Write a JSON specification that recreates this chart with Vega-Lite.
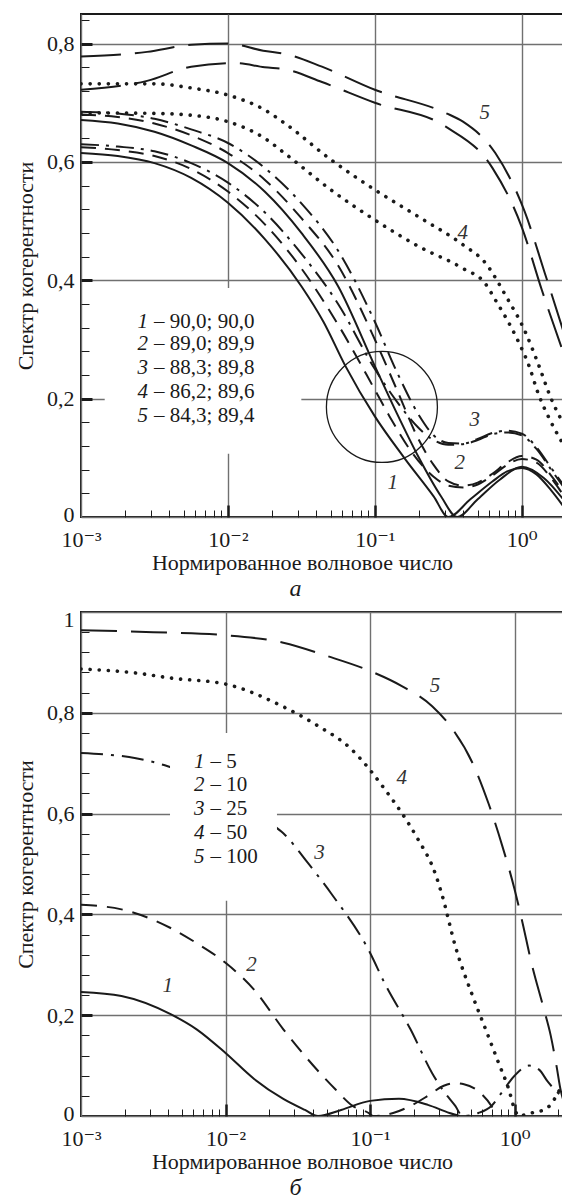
{
  "$schema": "https://vega.github.io/schema/vega-lite/v6.json",
  "padding": {"left": 13, "top": 13, "right": 0, "bottom": 0},
  "background": "white",
  "config": {
    "view": {"stroke": "#1a1a1a", "strokeWidth": 2},
    "font": "Liberation Serif, 'DejaVu Serif', serif",
    "axis": {"labelFont": "Liberation Serif, 'DejaVu Serif', serif", "titleFont": "Liberation Serif, 'DejaVu Serif', serif", "labelColor": "#1a1a1a", "titleColor": "#1a1a1a", "labelFontSize": 22, "titleFontSize": 22, "titleFontWeight": "normal", "gridColor": "#707070", "gridWidth": 1.4, "tickColor": "#1a1a1a"},
    "concat": {"spacing": 5}
  },
  "datasets": {
    "topCurves": [
      {"c":"1a","s":"solid","x":0.001,"y":0.671},{"c":"1a","s":"solid","x":0.0017783,"y":0.665},{"c":"1a","s":"solid","x":0.0031623,"y":0.651},{"c":"1a","s":"solid","x":0.0056234,"y":0.628},{"c":"1a","s":"solid","x":0.01,"y":0.598},{"c":"1a","s":"solid","x":0.017783,"y":0.55},{"c":"1a","s":"solid","x":0.031623,"y":0.48},{"c":"1a","s":"solid","x":0.056234,"y":0.39},{"c":"1a","s":"solid","x":0.1,"y":0.255},{"c":"1a","s":"solid","x":0.14125,"y":0.175},{"c":"1a","s":"solid","x":0.19953,"y":0.10},{"c":"1a","s":"solid","x":0.28184,"y":0.035},{"c":"1a","s":"solid","x":0.36308,"y":0.0},{"c":"1a","s":"solid","x":0.50119,"y":0.03},{"c":"1a","s":"solid","x":0.70795,"y":0.063},{"c":"1a","s":"solid","x":1.0,"y":0.085},{"c":"1a","s":"solid","x":1.4125,"y":0.066},{"c":"1a","s":"solid","x":2.0,"y":0.024},
      {"c":"1b","s":"solid","x":0.001,"y":0.615},{"c":"1b","s":"solid","x":0.0017783,"y":0.61},{"c":"1b","s":"solid","x":0.0031623,"y":0.598},{"c":"1b","s":"solid","x":0.0056234,"y":0.573},{"c":"1b","s":"solid","x":0.01,"y":0.531},{"c":"1b","s":"solid","x":0.017783,"y":0.47},{"c":"1b","s":"solid","x":0.031623,"y":0.39},{"c":"1b","s":"solid","x":0.044668,"y":0.33},{"c":"1b","s":"solid","x":0.063096,"y":0.255},{"c":"1b","s":"solid","x":0.1,"y":0.17},{"c":"1b","s":"solid","x":0.15849,"y":0.10},{"c":"1b","s":"solid","x":0.25119,"y":0.035},{"c":"1b","s":"solid","x":0.31623,"y":0.0},{"c":"1b","s":"solid","x":0.44668,"y":0.03},{"c":"1b","s":"solid","x":0.63096,"y":0.06},{"c":"1b","s":"solid","x":0.79433,"y":0.077},{"c":"1b","s":"solid","x":1.0,"y":0.083},{"c":"1b","s":"solid","x":1.2589,"y":0.072},{"c":"1b","s":"solid","x":1.5849,"y":0.045},{"c":"1b","s":"solid","x":2.0,"y":0.012},
      {"c":"2a","s":"dash","x":0.001,"y":0.625},{"c":"2a","s":"dash","x":0.0017783,"y":0.62},{"c":"2a","s":"dash","x":0.0031623,"y":0.61},{"c":"2a","s":"dash","x":0.0056234,"y":0.588},{"c":"2a","s":"dash","x":0.01,"y":0.55},{"c":"2a","s":"dash","x":0.017783,"y":0.495},{"c":"2a","s":"dash","x":0.031623,"y":0.42},{"c":"2a","s":"dash","x":0.056234,"y":0.325},{"c":"2a","s":"dash","x":0.1,"y":0.215},{"c":"2a","s":"dash","x":0.12589,"y":0.17},{"c":"2a","s":"dash","x":0.17783,"y":0.11},{"c":"2a","s":"dash","x":0.25119,"y":0.068},{"c":"2a","s":"dash","x":0.31623,"y":0.053},{"c":"2a","s":"dash","x":0.39811,"y":0.05},{"c":"2a","s":"dash","x":0.50119,"y":0.055},{"c":"2a","s":"dash","x":0.63096,"y":0.07},{"c":"2a","s":"dash","x":0.79433,"y":0.088},{"c":"2a","s":"dash","x":1.0,"y":0.098},{"c":"2a","s":"dash","x":1.2589,"y":0.092},{"c":"2a","s":"dash","x":1.5849,"y":0.066},{"c":"2a","s":"dash","x":2.0,"y":0.03},
      {"c":"2b","s":"dash","x":0.001,"y":0.68},{"c":"2b","s":"dash","x":0.0017783,"y":0.676},{"c":"2b","s":"dash","x":0.0031623,"y":0.665},{"c":"2b","s":"dash","x":0.0056234,"y":0.645},{"c":"2b","s":"dash","x":0.01,"y":0.615},{"c":"2b","s":"dash","x":0.017783,"y":0.57},{"c":"2b","s":"dash","x":0.031623,"y":0.505},{"c":"2b","s":"dash","x":0.056234,"y":0.425},{"c":"2b","s":"dash","x":0.1,"y":0.30},{"c":"2b","s":"dash","x":0.14125,"y":0.215},{"c":"2b","s":"dash","x":0.19953,"y":0.13},{"c":"2b","s":"dash","x":0.25119,"y":0.088},{"c":"2b","s":"dash","x":0.31623,"y":0.06},{"c":"2b","s":"dash","x":0.39811,"y":0.053},{"c":"2b","s":"dash","x":0.50119,"y":0.058},{"c":"2b","s":"dash","x":0.63096,"y":0.073},{"c":"2b","s":"dash","x":0.79433,"y":0.092},{"c":"2b","s":"dash","x":1.0,"y":0.103},{"c":"2b","s":"dash","x":1.2589,"y":0.097},{"c":"2b","s":"dash","x":1.5849,"y":0.07},{"c":"2b","s":"dash","x":2.0,"y":0.035},
      {"c":"3a","s":"dashdot","x":0.001,"y":0.63},{"c":"3a","s":"dashdot","x":0.0017783,"y":0.626},{"c":"3a","s":"dashdot","x":0.0031623,"y":0.618},{"c":"3a","s":"dashdot","x":0.0056234,"y":0.598},{"c":"3a","s":"dashdot","x":0.01,"y":0.565},{"c":"3a","s":"dashdot","x":0.017783,"y":0.515},{"c":"3a","s":"dashdot","x":0.031623,"y":0.445},{"c":"3a","s":"dashdot","x":0.056234,"y":0.36},{"c":"3a","s":"dashdot","x":0.1,"y":0.25},{"c":"3a","s":"dashdot","x":0.14125,"y":0.195},{"c":"3a","s":"dashdot","x":0.19953,"y":0.15},{"c":"3a","s":"dashdot","x":0.25119,"y":0.13},{"c":"3a","s":"dashdot","x":0.31623,"y":0.122},{"c":"3a","s":"dashdot","x":0.39811,"y":0.123},{"c":"3a","s":"dashdot","x":0.50119,"y":0.13},{"c":"3a","s":"dashdot","x":0.63096,"y":0.14},{"c":"3a","s":"dashdot","x":0.79433,"y":0.143},{"c":"3a","s":"dashdot","x":1.0,"y":0.138},{"c":"3a","s":"dashdot","x":1.2589,"y":0.115},{"c":"3a","s":"dashdot","x":1.5849,"y":0.08},{"c":"3a","s":"dashdot","x":2.0,"y":0.045},
      {"c":"3b","s":"dashdot","x":0.001,"y":0.685},{"c":"3b","s":"dashdot","x":0.0017783,"y":0.682},{"c":"3b","s":"dashdot","x":0.0031623,"y":0.673},{"c":"3b","s":"dashdot","x":0.0056234,"y":0.655},{"c":"3b","s":"dashdot","x":0.01,"y":0.632},{"c":"3b","s":"dashdot","x":0.017783,"y":0.59},{"c":"3b","s":"dashdot","x":0.031623,"y":0.53},{"c":"3b","s":"dashdot","x":0.056234,"y":0.45},{"c":"3b","s":"dashdot","x":0.1,"y":0.33},{"c":"3b","s":"dashdot","x":0.14125,"y":0.245},{"c":"3b","s":"dashdot","x":0.19953,"y":0.172},{"c":"3b","s":"dashdot","x":0.25119,"y":0.138},{"c":"3b","s":"dashdot","x":0.31623,"y":0.125},{"c":"3b","s":"dashdot","x":0.39811,"y":0.124},{"c":"3b","s":"dashdot","x":0.50119,"y":0.132},{"c":"3b","s":"dashdot","x":0.63096,"y":0.142},{"c":"3b","s":"dashdot","x":0.79433,"y":0.146},{"c":"3b","s":"dashdot","x":1.0,"y":0.141},{"c":"3b","s":"dashdot","x":1.2589,"y":0.118},{"c":"3b","s":"dashdot","x":1.5849,"y":0.083},{"c":"3b","s":"dashdot","x":2.0,"y":0.048},
      {"c":"4a","s":"dot","x":0.001,"y":0.732},{"c":"4a","s":"dot","x":0.0031623,"y":0.732},{"c":"4a","s":"dot","x":0.0056234,"y":0.725},{"c":"4a","s":"dot","x":0.01,"y":0.713},{"c":"4a","s":"dot","x":0.017783,"y":0.688},{"c":"4a","s":"dot","x":0.025119,"y":0.663},{"c":"4a","s":"dot","x":0.050119,"y":0.604},{"c":"4a","s":"dot","x":0.1,"y":0.553},{"c":"4a","s":"dot","x":0.19953,"y":0.507},{"c":"4a","s":"dot","x":0.39811,"y":0.46},{"c":"4a","s":"dot","x":0.56234,"y":0.43},{"c":"4a","s":"dot","x":0.79433,"y":0.37},{"c":"4a","s":"dot","x":1.0471,"y":0.315},{"c":"4a","s":"dot","x":1.2882,"y":0.26},{"c":"4a","s":"dot","x":1.5849,"y":0.2},{"c":"4a","s":"dot","x":2.0,"y":0.15},
      {"c":"4b","s":"dot","x":0.001,"y":0.683},{"c":"4b","s":"dot","x":0.0031623,"y":0.682},{"c":"4b","s":"dot","x":0.0056234,"y":0.679},{"c":"4b","s":"dot","x":0.01,"y":0.668},{"c":"4b","s":"dot","x":0.017783,"y":0.64},{"c":"4b","s":"dot","x":0.025119,"y":0.612},{"c":"4b","s":"dot","x":0.050119,"y":0.553},{"c":"4b","s":"dot","x":0.1,"y":0.502},{"c":"4b","s":"dot","x":0.19953,"y":0.457},{"c":"4b","s":"dot","x":0.39811,"y":0.42},{"c":"4b","s":"dot","x":0.56234,"y":0.395},{"c":"4b","s":"dot","x":0.66069,"y":0.367},{"c":"4b","s":"dot","x":0.93325,"y":0.30},{"c":"4b","s":"dot","x":1.122,"y":0.255},{"c":"4b","s":"dot","x":1.2882,"y":0.21},{"c":"4b","s":"dot","x":1.5849,"y":0.16},{"c":"4b","s":"dot","x":2.0,"y":0.115},
      {"c":"5a","s":"long","x":0.001,"y":0.778},{"c":"5a","s":"long","x":0.0028184,"y":0.786},{"c":"5a","s":"long","x":0.0056234,"y":0.798},{"c":"5a","s":"long","x":0.01,"y":0.80},{"c":"5a","s":"long","x":0.017378,"y":0.788},{"c":"5a","s":"long","x":0.025119,"y":0.782},{"c":"5a","s":"long","x":0.043652,"y":0.761},{"c":"5a","s":"long","x":0.1,"y":0.722},{"c":"5a","s":"long","x":0.302,"y":0.683},{"c":"5a","s":"long","x":0.39811,"y":0.668},{"c":"5a","s":"long","x":0.66069,"y":0.615},{"c":"5a","s":"long","x":1.0471,"y":0.516},{"c":"5a","s":"long","x":1.4355,"y":0.412},{"c":"5a","s":"long","x":2.0,"y":0.30},
      {"c":"5b","s":"long","x":0.001,"y":0.722},{"c":"5b","s":"long","x":0.0028184,"y":0.737},{"c":"5b","s":"long","x":0.0056234,"y":0.761},{"c":"5b","s":"long","x":0.01122,"y":0.767},{"c":"5b","s":"long","x":0.017783,"y":0.76},{"c":"5b","s":"long","x":0.025119,"y":0.756},{"c":"5b","s":"long","x":0.043652,"y":0.735},{"c":"5b","s":"long","x":0.1,"y":0.70},{"c":"5b","s":"long","x":0.302,"y":0.66},{"c":"5b","s":"long","x":0.63096,"y":0.59},{"c":"5b","s":"long","x":1.0,"y":0.49},{"c":"5b","s":"long","x":1.3677,"y":0.384},{"c":"5b","s":"long","x":2.0,"y":0.265}
    ],
    "topLegend": [
      {"n":"1","t":"– 90,0; 90,0","x":0.003,"y":0.330},
      {"n":"2","t":"– 89,0; 89,9","x":0.003,"y":0.292},
      {"n":"3","t":"– 88,3; 89,8","x":0.003,"y":0.251},
      {"n":"4","t":"– 86,2; 89,6","x":0.003,"y":0.212},
      {"n":"5","t":"– 84,3; 89,4","x":0.003,"y":0.170}
    ],
    "topLabels": [
      {"n":"5","x":0.5598,"y":0.683},
      {"n":"4","x":0.3972,"y":0.48},
      {"n":"3","x":0.4786,"y":0.164},
      {"n":"2","x":0.3784,"y":0.091},
      {"n":"1","x":0.1324,"y":0.057}
    ],
    "topMask": [{"x1":0.00145,"x2":0.0316,"y1":0.107,"y2":0.387}],
    "topCircle": [{"x":0.1117,"y":0.186}],
    "botCurves": [
      {"c":"1","s":"solid","x":0.001,"y":0.246},{"c":"1","s":"solid","x":0.0019055,"y":0.238},{"c":"1","s":"solid","x":0.0041687,"y":0.202},{"c":"1","s":"solid","x":0.0063096,"y":0.172},{"c":"1","s":"solid","x":0.01,"y":0.125},{"c":"1","s":"solid","x":0.015849,"y":0.073},{"c":"1","s":"solid","x":0.025119,"y":0.034},{"c":"1","s":"solid","x":0.035481,"y":0.012},{"c":"1","s":"solid","x":0.043652,"y":0.0},{"c":"1","s":"solid","x":0.063096,"y":0.012},{"c":"1","s":"solid","x":0.1,"y":0.03},{"c":"1","s":"solid","x":0.15849,"y":0.034},{"c":"1","s":"solid","x":0.25119,"y":0.022},{"c":"1","s":"solid","x":0.35481,"y":0.006},{"c":"1","s":"solid","x":0.41687,"y":0.0},
      {"c":"2","s":"dash","x":0.001,"y":0.419},{"c":"2","s":"dash","x":0.0019055,"y":0.41},{"c":"2","s":"dash","x":0.0041687,"y":0.373},{"c":"2","s":"dash","x":0.0063096,"y":0.343},{"c":"2","s":"dash","x":0.01,"y":0.304},{"c":"2","s":"dash","x":0.015849,"y":0.25},{"c":"2","s":"dash","x":0.025119,"y":0.172},{"c":"2","s":"dash","x":0.035481,"y":0.119},{"c":"2","s":"dash","x":0.057544,"y":0.053},{"c":"2","s":"dash","x":0.075858,"y":0.02},{"c":"2","s":"dash","x":0.097724,"y":0.006},{"c":"2","s":"dash","x":0.10471,"y":0.0},{"c":"2","s":"dash","x":0.14454,"y":0.006},{"c":"2","s":"dash","x":0.19055,"y":0.02},{"c":"2","s":"dash","x":0.25119,"y":0.04},{"c":"2","s":"dash","x":0.32359,"y":0.06},{"c":"2","s":"dash","x":0.38019,"y":0.065},{"c":"2","s":"dash","x":0.44668,"y":0.063},{"c":"2","s":"dash","x":0.58884,"y":0.044},{"c":"2","s":"dash","x":0.69183,"y":0.02},{"c":"2","s":"dash","x":0.75858,"y":0.0},
      {"c":"3","s":"dashdot","x":0.001,"y":0.72},{"c":"3","s":"dashdot","x":0.0023988,"y":0.71},{"c":"3","s":"dashdot","x":0.0039811,"y":0.694},{"c":"3","s":"dashdot","x":0.01,"y":0.645},{"c":"3","s":"dashdot","x":0.020417,"y":0.581},{"c":"3","s":"dashdot","x":0.025119,"y":0.561},{"c":"3","s":"dashdot","x":0.037154,"y":0.502},{"c":"3","s":"dashdot","x":0.053703,"y":0.442},{"c":"3","s":"dashdot","x":0.1,"y":0.324},{"c":"3","s":"dashdot","x":0.12589,"y":0.264},{"c":"3","s":"dashdot","x":0.19055,"y":0.172},{"c":"3","s":"dashdot","x":0.26915,"y":0.085},{"c":"3","s":"dashdot","x":0.31623,"y":0.053},{"c":"3","s":"dashdot","x":0.38905,"y":0.02},{"c":"3","s":"dashdot","x":0.43652,"y":0.0},{"c":"3","s":"dashdot","x":0.56234,"y":0.006},{"c":"3","s":"dashdot","x":0.69183,"y":0.02},{"c":"3","s":"dashdot","x":0.81283,"y":0.046},{"c":"3","s":"dashdot","x":1.0,"y":0.08},{"c":"3","s":"dashdot","x":1.2589,"y":0.10},{"c":"3","s":"dashdot","x":1.4791,"y":0.092},{"c":"3","s":"dashdot","x":1.6982,"y":0.068},{"c":"3","s":"dashdot","x":1.9953,"y":0.046},{"c":"3","s":"dashdot","x":2.27,"y":0.03},
      {"c":"4","s":"dot","x":0.001,"y":0.887},{"c":"4","s":"dot","x":0.0023988,"y":0.879},{"c":"4","s":"dot","x":0.0041687,"y":0.869},{"c":"4","s":"dot","x":0.01,"y":0.857},{"c":"4","s":"dot","x":0.025119,"y":0.812},{"c":"4","s":"dot","x":0.043652,"y":0.774},{"c":"4","s":"dot","x":0.074131,"y":0.728},{"c":"4","s":"dot","x":0.097724,"y":0.69},{"c":"4","s":"dot","x":0.12589,"y":0.649},{"c":"4","s":"dot","x":0.16596,"y":0.601},{"c":"4","s":"dot","x":0.2138,"y":0.55},{"c":"4","s":"dot","x":0.28184,"y":0.482},{"c":"4","s":"dot","x":0.31623,"y":0.437},{"c":"4","s":"dot","x":0.38905,"y":0.337},{"c":"4","s":"dot","x":0.51286,"y":0.238},{"c":"4","s":"dot","x":0.63096,"y":0.172},{"c":"4","s":"dot","x":0.77625,"y":0.105},{"c":"4","s":"dot","x":0.91201,"y":0.053},{"c":"4","s":"dot","x":1.0,"y":0.014},{"c":"4","s":"dot","x":1.0715,"y":0.0},{"c":"4","s":"dot","x":1.2589,"y":0.005},{"c":"4","s":"dot","x":1.5849,"y":0.012},{"c":"4","s":"dot","x":1.8197,"y":0.026},{"c":"4","s":"dot","x":1.9953,"y":0.046},{"c":"4","s":"dot","x":2.27,"y":0.07},
      {"c":"5","s":"long","x":0.001,"y":0.964},{"c":"5","s":"long","x":0.0031623,"y":0.96},{"c":"5","s":"long","x":0.01,"y":0.954},{"c":"5","s":"long","x":0.025119,"y":0.939},{"c":"5","s":"long","x":0.050119,"y":0.913},{"c":"5","s":"long","x":0.1,"y":0.883},{"c":"5","s":"long","x":0.16596,"y":0.853},{"c":"5","s":"long","x":0.26915,"y":0.813},{"c":"5","s":"long","x":0.37154,"y":0.768},{"c":"5","s":"long","x":0.51286,"y":0.70},{"c":"5","s":"long","x":0.66069,"y":0.62},{"c":"5","s":"long","x":0.82224,"y":0.536},{"c":"5","s":"long","x":1.0,"y":0.45},{"c":"5","s":"long","x":1.122,"y":0.39},{"c":"5","s":"long","x":1.3183,"y":0.30},{"c":"5","s":"long","x":1.5849,"y":0.215},{"c":"5","s":"long","x":1.7783,"y":0.16},{"c":"5","s":"long","x":1.9498,"y":0.10},{"c":"5","s":"long","x":2.0893,"y":0.05},{"c":"5","s":"long","x":2.1878,"y":0.03},{"c":"5","s":"long","x":2.27,"y":0.025}
    ],
    "botLegend": [
      {"n":"1","t":"– 5","x":0.0075,"y":0.702},
      {"n":"2","t":"– 10","x":0.0075,"y":0.657},
      {"n":"3","t":"– 25","x":0.0075,"y":0.609},
      {"n":"4","t":"– 50","x":0.0075,"y":0.562},
      {"n":"5","t":"– 100","x":0.0075,"y":0.514}
    ],
    "botLabels": [
      {"n":"5","x":0.2818,"y":0.853},
      {"n":"4","x":0.166,"y":0.671},
      {"n":"3","x":0.0447,"y":0.522},
      {"n":"2","x":0.01514,"y":0.30},
      {"n":"1","x":0.00398,"y":0.258}
    ],
    "botMask": [{"x1":0.00413,"x2":0.0227,"y1":0.427,"y2":0.76}]
  },
  "vconcat": [
    {
      "width": 485, "height": 503,
      "title": {"text": "а", "orient": "bottom", "anchor": "middle", "dx": -28, "offset": 4, "font": "Liberation Serif, 'DejaVu Serif', serif", "fontStyle": "italic", "fontSize": 24, "fontWeight": "normal", "color": "#1a1a1a"},
      "resolve": {"axis": {"x": "independent", "y": "independent"}},
      "encoding": {
        "x": {"field": "x", "type": "quantitative", "scale": {"type": "log", "domain": [0.001, 2], "nice": false}, "axis": null},
        "y": {"field": "y", "type": "quantitative", "scale": {"domain": [0, 0.85], "nice": false, "zero": false}, "axis": null}
      },
      "layer": [
        {
          "data": {"name": "topMask"},
          "mark": {"type": "rect", "color": "white", "strokeWidth": 0},
          "encoding": {
            "x": {"field": "x1", "type": "quantitative", "scale": {"type": "log", "domain": [0.001, 2], "nice": false}, "axis": null},
            "x2": {"field": "x2"},
            "y": {"field": "y1", "type": "quantitative", "scale": {"domain": [0, 0.85], "nice": false, "zero": false}, "axis": null},
            "y2": {"field": "y2"}
          }
        },
        {
          "data": {"name": "topCurves"},
          "transform": [{"filter": "datum.s == 'solid'"}],
          "mark": {"type": "line", "interpolate": "monotone", "clip": true, "color": "#1a1a1a", "strokeWidth": 2},
          "encoding": {
            "detail": {"field": "c"},
            "x": {"field": "x", "type": "quantitative", "scale": {"type": "log", "domain": [0.001, 2], "nice": false},
              "axis": {"orient": "bottom", "values": [0.001, 0.01, 0.1, 1], "grid": true, "ticks": false, "domain": false, "labelFlush": false, "labelPadding": 12,
                "labelExpr": "datum.value < 0.005 ? '10⁻³' : datum.value < 0.05 ? '10⁻²' : datum.value < 0.5 ? '10⁻¹' : '10⁰'",
                "title": "Нормированное волновое число", "titlePadding": 2, "titleX": 221, "titleAlign": "center"}},
            "y": {"field": "y", "type": "quantitative", "scale": {"domain": [0, 0.85], "nice": false, "zero": false},
              "axis": {"orient": "left", "values": [0, 0.2, 0.4, 0.6, 0.8], "grid": true, "ticks": false, "domain": false, "labelPadding": 7,
                "labelOffset": {"condition": {"test": "datum.value == 0", "value": -3}, "value": 0},
                "labelExpr": "datum.value == 0 ? '0' : replace(format(datum.value, '.1f'), '.', ',')",
                "title": "Спектр когерентности", "titlePadding": 9}}
          }
        },
        {
          "data": {"name": "topCurves"},
          "transform": [{"filter": "datum.s == 'dash'"}],
          "mark": {"type": "line", "interpolate": "monotone", "clip": true, "color": "#1a1a1a", "strokeWidth": 2, "strokeDash": [15, 9]},
          "encoding": {
            "detail": {"field": "c"},
            "x": {"field": "x", "type": "quantitative", "scale": {"type": "log", "domain": [0.001, 2], "nice": false},
              "axis": {"orient": "bottom", "values": [0.002,0.003,0.004,0.005,0.006,0.007,0.008,0.009,0.02,0.03,0.04,0.05,0.06,0.07,0.08,0.09,0.2,0.3,0.4,0.5,0.6,0.7,0.8,0.9,2], "grid": false, "ticks": true, "tickSize": -7, "tickWidth": 1, "labels": false, "domain": false, "title": null}},
            "y": {"field": "y", "type": "quantitative", "scale": {"domain": [0, 0.85], "nice": false, "zero": false},
              "axis": {"orient": "left", "values": [0.04,0.08,0.12,0.16,0.24,0.28,0.32,0.36,0.44,0.48,0.52,0.56,0.64,0.68,0.72,0.76,0.84], "grid": false, "ticks": true, "tickSize": -8, "tickWidth": 1, "labels": false, "domain": false, "title": null}}
          }
        },
        {
          "data": {"name": "topCurves"},
          "transform": [{"filter": "datum.s == 'dashdot'"}],
          "mark": {"type": "line", "interpolate": "monotone", "clip": true, "color": "#1a1a1a", "strokeWidth": 2, "strokeDash": [18, 7, 3, 7]},
          "encoding": {
            "detail": {"field": "c"},
            "x": {"field": "x", "type": "quantitative", "scale": {"type": "log", "domain": [0.001, 2], "nice": false},
              "axis": {"orient": "bottom", "values": [0.01, 0.1, 1], "grid": false, "ticks": true, "tickSize": -12, "tickWidth": 2.5, "labels": false, "domain": false, "title": null}},
            "y": {"field": "y", "type": "quantitative", "scale": {"domain": [0, 0.85], "nice": false, "zero": false},
              "axis": {"orient": "left", "values": [0.2, 0.4, 0.6, 0.8], "grid": false, "ticks": true, "tickSize": -11, "tickWidth": 3, "labels": false, "domain": false, "title": null}}
          }
        },
        {
          "data": {"name": "topCurves"},
          "transform": [{"filter": "datum.s == 'dot'"}],
          "mark": {"type": "line", "interpolate": "monotone", "clip": true, "color": "#1a1a1a", "strokeWidth": 3.6, "strokeCap": "round", "strokeDash": [0.1, 9]},
          "encoding": {"detail": {"field": "c"}}
        },
        {
          "data": {"name": "topCurves"},
          "transform": [{"filter": "datum.s == 'long'"}],
          "mark": {"type": "line", "interpolate": "monotone", "clip": true, "color": "#1a1a1a", "strokeWidth": 2, "strokeDash": [40, 14]},
          "encoding": {"detail": {"field": "c"}}
        },
        {
          "data": {"name": "topCircle"},
          "mark": {"type": "point", "shape": "circle", "size": 12321, "filled": false, "stroke": "#1a1a1a", "strokeWidth": 1.3, "opacity": 1}
        },
        {
          "data": {"name": "topLegend"},
          "mark": {"type": "text", "align": "right", "baseline": "middle", "dx": -3, "font": "Liberation Serif, 'DejaVu Serif', serif", "fontStyle": "italic", "fontSize": 21, "color": "#1a1a1a"},
          "encoding": {"text": {"field": "n"}}
        },
        {
          "data": {"name": "topLegend"},
          "mark": {"type": "text", "align": "left", "baseline": "middle", "dx": 3, "font": "Liberation Serif, 'DejaVu Serif', serif", "fontSize": 21, "color": "#1a1a1a"},
          "encoding": {"text": {"field": "t"}}
        },
        {
          "data": {"name": "topLabels"},
          "mark": {"type": "text", "align": "center", "baseline": "middle", "font": "Liberation Serif, 'DejaVu Serif', serif", "fontStyle": "italic", "fontSize": 21, "color": "#333333"},
          "encoding": {"text": {"field": "n"}}
        }
      ]
    },
    {
      "width": 485, "height": 504,
      "title": {"text": "б", "orient": "bottom", "anchor": "middle", "dx": -28, "offset": 4, "font": "Liberation Serif, 'DejaVu Serif', serif", "fontStyle": "italic", "fontSize": 24, "fontWeight": "normal", "color": "#1a1a1a"},
      "resolve": {"axis": {"x": "independent", "y": "independent"}},
      "encoding": {
        "x": {"field": "x", "type": "quantitative", "scale": {"type": "log", "domain": [0.001, 2.27], "nice": false}, "axis": null},
        "y": {"field": "y", "type": "quantitative", "scale": {"domain": [0, 1], "nice": false, "zero": false}, "axis": null}
      },
      "layer": [
        {
          "data": {"name": "botCurves"},
          "transform": [{"filter": "datum.s == 'solid'"}],
          "mark": {"type": "line", "interpolate": "monotone", "clip": true, "color": "#1a1a1a", "strokeWidth": 2},
          "encoding": {
            "detail": {"field": "c"},
            "x": {"field": "x", "type": "quantitative", "scale": {"type": "log", "domain": [0.001, 2.27], "nice": false},
              "axis": {"orient": "bottom", "values": [0.001, 0.01, 0.1, 1], "grid": true, "ticks": false, "domain": false, "labelFlush": false, "labelPadding": 12,
                "labelExpr": "datum.value < 0.005 ? '10⁻³' : datum.value < 0.05 ? '10⁻²' : datum.value < 0.5 ? '10⁻¹' : '10⁰'",
                "title": "Нормированное волновое число", "titlePadding": 2, "titleX": 221, "titleAlign": "center"}},
            "y": {"field": "y", "type": "quantitative", "scale": {"domain": [0, 1], "nice": false, "zero": false},
              "axis": {"orient": "left", "values": [0, 0.2, 0.4, 0.6, 0.8, 1], "grid": true, "ticks": false, "domain": false, "labelPadding": 7,
                "labelOffset": {"condition": [{"test": "datum.value == 1", "value": 7}, {"test": "datum.value == 0", "value": -3}], "value": 0},
                "labelExpr": "datum.value == 0 ? '0' : datum.value == 1 ? '1' : replace(format(datum.value, '.1f'), '.', ',')",
                "title": "Спектр когерентности", "titlePadding": 9}}
          }
        },
        {
          "data": {"name": "botCurves"},
          "transform": [{"filter": "datum.s == 'dash'"}],
          "mark": {"type": "line", "interpolate": "monotone", "clip": true, "color": "#1a1a1a", "strokeWidth": 2, "strokeDash": [16, 10]},
          "encoding": {
            "detail": {"field": "c"},
            "x": {"field": "x", "type": "quantitative", "scale": {"type": "log", "domain": [0.001, 2.27], "nice": false},
              "axis": {"orient": "bottom", "values": [0.002,0.003,0.004,0.005,0.006,0.007,0.008,0.009,0.02,0.03,0.04,0.05,0.06,0.07,0.08,0.09,0.2,0.3,0.4,0.5,0.6,0.7,0.8,0.9,2], "grid": false, "ticks": true, "tickSize": -7, "tickWidth": 1, "labels": false, "domain": false, "title": null}},
            "y": {"field": "y", "type": "quantitative", "scale": {"domain": [0, 1], "nice": false, "zero": false},
              "axis": {"orient": "left", "values": [0.04,0.08,0.12,0.16,0.24,0.28,0.32,0.36,0.44,0.48,0.52,0.56,0.64,0.68,0.72,0.76,0.84,0.88,0.92,0.96], "grid": false, "ticks": true, "tickSize": -8, "tickWidth": 1, "labels": false, "domain": false, "title": null}}
          }
        },
        {
          "data": {"name": "botCurves"},
          "transform": [{"filter": "datum.s == 'dashdot'"}],
          "mark": {"type": "line", "interpolate": "monotone", "clip": true, "color": "#1a1a1a", "strokeWidth": 2, "strokeDash": [22, 8, 3, 8]},
          "encoding": {
            "detail": {"field": "c"},
            "x": {"field": "x", "type": "quantitative", "scale": {"type": "log", "domain": [0.001, 2.27], "nice": false},
              "axis": {"orient": "bottom", "values": [0.01, 0.1, 1], "grid": false, "ticks": true, "tickSize": -12, "tickWidth": 2.5, "labels": false, "domain": false, "title": null}},
            "y": {"field": "y", "type": "quantitative", "scale": {"domain": [0, 1], "nice": false, "zero": false},
              "axis": {"orient": "left", "values": [0.2, 0.4, 0.6, 0.8], "grid": false, "ticks": true, "tickSize": -11, "tickWidth": 3, "labels": false, "domain": false, "title": null}}
          }
        },
        {
          "data": {"name": "botCurves"},
          "transform": [{"filter": "datum.s == 'dot'"}],
          "mark": {"type": "line", "interpolate": "monotone", "clip": true, "color": "#1a1a1a", "strokeWidth": 3.6, "strokeCap": "round", "strokeDash": [0.1, 9]},
          "encoding": {"detail": {"field": "c"}}
        },
        {
          "data": {"name": "botCurves"},
          "transform": [{"filter": "datum.s == 'long'"}],
          "mark": {"type": "line", "interpolate": "monotone", "clip": true, "color": "#1a1a1a", "strokeWidth": 2, "strokeDash": [36, 14]},
          "encoding": {"detail": {"field": "c"}}
        },
        {
          "data": {"name": "botMask"},
          "mark": {"type": "rect", "color": "white", "strokeWidth": 0},
          "encoding": {
            "x": {"field": "x1", "type": "quantitative", "scale": {"type": "log", "domain": [0.001, 2.27], "nice": false}, "axis": null},
            "x2": {"field": "x2"},
            "y": {"field": "y1", "type": "quantitative", "scale": {"domain": [0, 1], "nice": false, "zero": false}, "axis": null},
            "y2": {"field": "y2"}
          }
        },
        {
          "data": {"name": "botLegend"},
          "mark": {"type": "text", "align": "right", "baseline": "middle", "dx": -3, "font": "Liberation Serif, 'DejaVu Serif', serif", "fontStyle": "italic", "fontSize": 21, "color": "#1a1a1a"},
          "encoding": {"text": {"field": "n"}}
        },
        {
          "data": {"name": "botLegend"},
          "mark": {"type": "text", "align": "left", "baseline": "middle", "dx": 3, "font": "Liberation Serif, 'DejaVu Serif', serif", "fontSize": 21, "color": "#1a1a1a"},
          "encoding": {"text": {"field": "t"}}
        },
        {
          "data": {"name": "botLabels"},
          "mark": {"type": "text", "align": "center", "baseline": "middle", "font": "Liberation Serif, 'DejaVu Serif', serif", "fontStyle": "italic", "fontSize": 21, "color": "#333333"},
          "encoding": {"text": {"field": "n"}}
        }
      ]
    }
  ]
}
